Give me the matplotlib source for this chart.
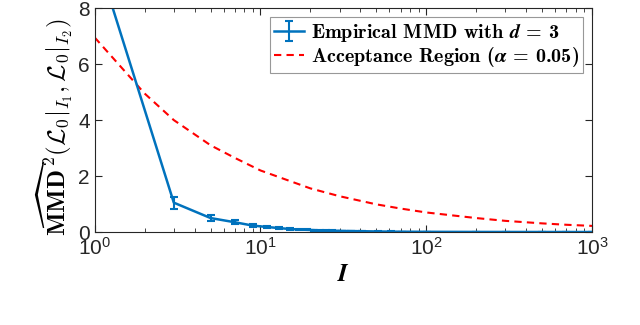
import matplotlib
matplotlib.use("Agg")
import matplotlib.pyplot as plt

# empirical MMD^2 estimates
I_emp = [1, 3, 5, 7, 9, 11, 13, 15, 17, 19, 21, 23, 25, 27, 29, 31, 35, 41, 51, 61, 71, 101, 201, 301, 501, 701, 1000]
mmd_emp = [10.05, 1.05, 0.50, 0.35, 0.23, 0.18, 0.14, 0.11, 0.09, 0.08, 0.07, 0.06, 0.055, 0.05, 0.045, 0.04, 0.035, 0.03, 0.02, 0.015, 0.012, 0.008, 0.004, 0.003, 0.002, 0.0015, 0.001]
mmd_err = [0.0, 0.22, 0.12, 0.08, 0.05, 0.04, 0.03, 0.03, 0.02, 0.02, 0.02, 0.015, 0.015, 0.01, 0.01, 0.01, 0.01, 0.008, 0.006, 0.005, 0.004, 0.003, 0.002, 0.001, 0.001, 0.001, 0.001]

# acceptance threshold
I_acc = [1, 2, 3, 5, 7, 10, 20, 30, 50, 70, 100, 200, 300, 500, 700, 1000]
thr_acc = [6.95, 4.95, 4.0, 3.1, 2.65, 2.2, 1.56, 1.28, 0.99, 0.84, 0.7, 0.5, 0.4, 0.31, 0.26, 0.22]

plt.rcParams['font.family'] = ['Liberation Sans', 'DejaVu Sans']
plt.rcParams['mathtext.fontset'] = 'cm'

fig = plt.figure(figsize=(6.4, 3.25), dpi=100)
ax = fig.add_axes([0.148, 0.286, 0.777, 0.689])

emp = ax.errorbar(I_emp, mmd_emp, yerr=mmd_err, color='#0072BD', lw=1.8, capsize=3, capthick=1.5,
                  elinewidth=1.5, label=r'Empirical MMD with $\boldsymbol{d}$ = 3')
acc, = ax.plot(I_acc, thr_acc, '--', color='#FF0000', lw=1.5, dashes=(3.5, 2.5),
               label=r'Acceptance Region ($\boldsymbol{\alpha}$ = 0.05)')

ax.set_xscale('log')
ax.set_xlim(1, 1000)
ax.set_ylim(0, 8)
ax.set_yticks([0, 2, 4, 6, 8])

ax.tick_params(which='both', direction='in', top=True, right=True, labelsize=15, colors='#262626')
ax.tick_params(which='major', length=5)
ax.tick_params(which='minor', length=3)
for s in ax.spines.values():
    s.set_color('#262626')
    s.set_linewidth(0.8)

ax.set_xlabel(r'$\boldsymbol{I}$', fontsize=18, labelpad=2)
ax.set_ylabel(r'$\widehat{\mathbf{MMD}}^{\,\boldsymbol{2}}(\mathcal{L}_0|_{I_1},\mathcal{L}_0|_{I_2})$', fontsize=18)
ax.yaxis.set_label_coords(-0.04, 0.47)

leg = ax.legend(handles=[emp, acc], loc='upper right', prop={'family': 'cmb10', 'size': 14.5},
                frameon=True, fancybox=False, edgecolor='#7f7f7f', borderpad=0.2,
                handlelength=1.5, handletextpad=0.35, labelspacing=0.05, borderaxespad=0.45)
leg.get_frame().set_linewidth(0.8)

fig.savefig('out.png', dpi=100)
